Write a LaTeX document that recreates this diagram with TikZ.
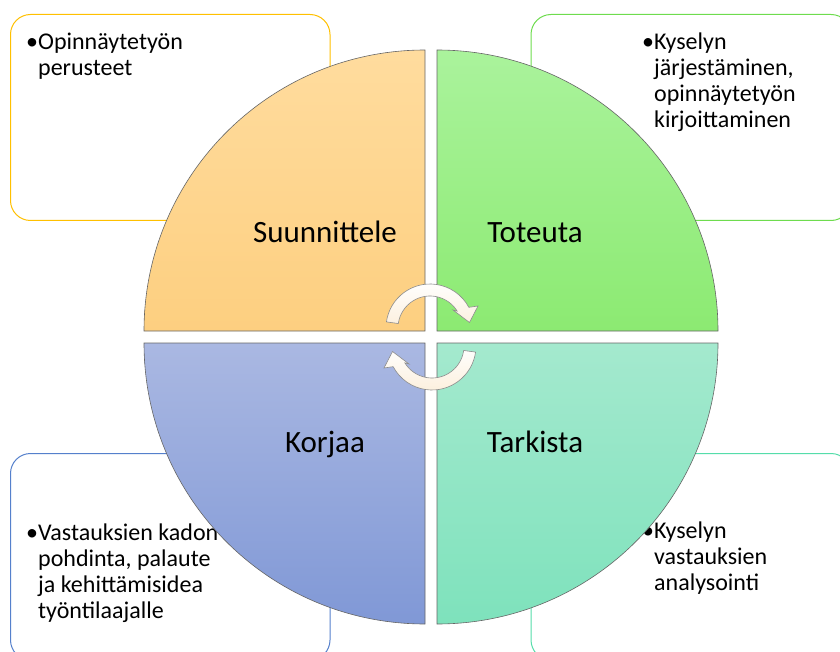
\documentclass[tikz,border=0pt]{standalone}
\usepackage{fontspec}
\setmainfont{Carlito}
\definecolor{bxgold}{HTML}{FFC000}
\definecolor{bxgreen}{HTML}{6EDC4E}
\definecolor{bxblue}{HTML}{5580CC}
\definecolor{bxteal}{HTML}{55DDAA}
\definecolor{orT}{HTML}{FFDC9E}
\definecolor{orB}{HTML}{FDCF80}
\definecolor{grT}{HTML}{AAF39C}
\definecolor{grB}{HTML}{8CEA72}
\definecolor{blT}{HTML}{AAB8E2}
\definecolor{blB}{HTML}{8098D6}
\definecolor{tlT}{HTML}{A4E9CE}
\definecolor{tlB}{HTML}{7EE2BC}
\definecolor{cream}{HTML}{FCEFDC}
\begin{document}
\begin{tikzpicture}[x=1pt,y=1pt,
  box/.style={rounded corners=20pt, line width=1pt, fill=white},
  quad/.style={draw=black!60, line width=0.6pt},
  lbl/.style={font=\fontsize{31}{36}\selectfont, anchor=base, inner sep=0},
  txt/.style={font=\fontsize{24}{26}\selectfont, anchor=base west, inner sep=0},
  cyc/.style={draw=black!45, line width=0.6pt, top color=white, bottom color=cream}]
\useasboundingbox (0,0) rectangle (840,-652);
% boxes
\draw[box, draw=bxgold]  (10.5,-14.5) rectangle (330,-220.5);
\draw[box, draw=bxgreen] (531,-14.5) rectangle (851,-220.5);
\draw[box, draw=bxblue]  (10.5,-453.5) rectangle (330,-660);
\draw[box, draw=bxteal]  (531,-453.5) rectangle (851,-660);
% box texts
\node[txt] (t1) at (26,-50) {\parbox[t]{280pt}{\raggedright •Opinnäytetyön\\\phantom{•}perusteet}};
\node[txt] (t2) at (642,-50) {\parbox[t]{190pt}{\raggedright •Kyselyn\\\phantom{•}järjestäminen,\\\phantom{•}opinnäytetyön\\\phantom{•}kirjoittaminen}};
\node[txt] (t3) at (26,-540) {\parbox[t]{280pt}{\raggedright •Vastauksien kadon\\\phantom{•}pohdinta, palaute\\\phantom{•}ja kehittämisidea\\\phantom{•}työntilaajalle}};
\node[txt] (t4) at (642,-538) {\parbox[t]{190pt}{\raggedright •Kyselyn\\\phantom{•}vastauksien\\\phantom{•}analysointi}};
% quadrants
\path[quad, top color=orT, bottom color=orB] (425,-331) -- ++(-281,0) arc[start angle=180, end angle=90, radius=281pt] -- cycle;
\path[quad, top color=grT, bottom color=grB] (437,-331) -- ++(0,281) arc[start angle=90, end angle=0, radius=281pt] -- cycle;
\path[quad, top color=blT, bottom color=blB] (425,-343) -- ++(0,-281) arc[start angle=270, end angle=180, radius=281pt] -- cycle;
\path[quad, top color=tlT, bottom color=tlB] (437,-343) -- ++(281,0) arc[start angle=0, end angle=-90, radius=281pt] -- cycle;
% labels
\node[lbl] (q1) at (325,-243) {Suunnittele};
\node[lbl] (q2) at (535,-243) {Toteuta};
\node[lbl] (q3) at (325,-452) {Korjaa};
\node[lbl] (q4) at (535,-452) {Tarkista};
% cycle arrows
\path[cyc] (430,-328) ++(172:44pt) arc[start angle=172, end angle=28, radius=44pt] -- (478,-306) -- (469.5,-322.5) -- (453,-310) -- ([shift={(32:32pt)}]430,-328) arc[start angle=32, end angle=172, radius=32pt] -- cycle;
\begin{scope}[rotate around={180:(431,-337)}]
\path[cyc] (430,-328) ++(172:44pt) arc[start angle=172, end angle=28, radius=44pt] -- (478,-306) -- (469.5,-322.5) -- (453,-310) -- ([shift={(32:32pt)}]430,-328) arc[start angle=32, end angle=172, radius=32pt] -- cycle;
\end{scope}
\end{tikzpicture}
\end{document}
